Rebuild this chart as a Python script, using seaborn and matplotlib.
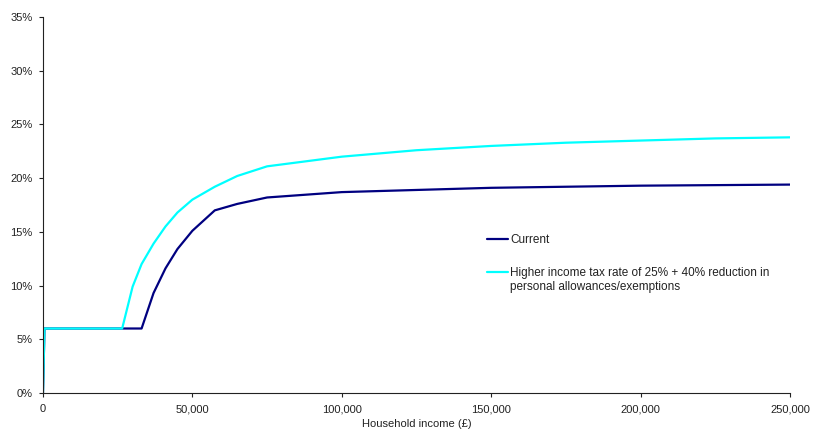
import matplotlib
matplotlib.use('Agg')
import matplotlib.pyplot as plt
import matplotlib.ticker as mticker
import pandas as pd
import seaborn as sns

# Household income (GBP) sample points
income = [0, 500, 26500, 30000, 33000, 37000, 41000, 45000, 50000, 57500, 65000,
          75000, 100000, 125000, 150000, 175000, 200000, 225000, 250000]

# Average tax rate (%) - current system
current = [0, 6.0, 6.0, 6.0, 6.0, 9.3, 11.6, 13.4, 15.1, 17.0, 17.6,
           18.2, 18.7, 18.9, 19.1, 19.2, 19.3, 19.35, 19.4]

# Average tax rate (%) - reform scenario
reform = [0, 6.0, 6.0, 9.9, 12.0, 13.9, 15.5, 16.8, 18.0, 19.2, 20.2,
          21.1, 22.0, 22.6, 23.0, 23.3, 23.5, 23.7, 23.8]

labels = ['Current',
          'Higher income tax rate of 25% + 40% reduction in',
          'personal allowances/exemptions']

sns.set_style('ticks')
plt.rcParams['font.family'] = ['Liberation Sans', 'DejaVu Sans']

df = pd.DataFrame({'income': income, 'current': current, 'reform': reform})

fig = plt.figure(figsize=(8.14, 4.43), dpi=100)
ax = fig.add_axes([0.0528, 0.113, 0.9177, 0.8485])

sns.lineplot(data=df, x='income', y='current', color='#000080', linewidth=1.6,
             label=labels[0], ax=ax, sort=False)
sns.lineplot(data=df, x='income', y='reform', color='#00FFFF', linewidth=1.6,
             label=labels[1], ax=ax, sort=False)

ax.set_xlim(0, 250000)
ax.set_ylim(0, 35)
ax.set_xticks(range(0, 250001, 50000))
ax.set_yticks(range(0, 36, 5))
ax.xaxis.set_major_formatter(mticker.FuncFormatter(lambda v, p: f'{int(v):,}'))
ax.yaxis.set_major_formatter(mticker.FuncFormatter(lambda v, p: f'{int(v)}%'))
ax.tick_params(labelsize=8, length=3, width=0.8, colors='#222222', labelcolor='#222222')
ax.tick_params(axis='x', pad=5)
ax.tick_params(axis='y', pad=4.3)
for s in ['left', 'bottom']:
    ax.spines[s].set_linewidth(0.8)
    ax.spines[s].set_color('#222222')
sns.despine(ax=ax)

ax.set_xlabel('Household income (£)', fontsize=8, color='#222222', labelpad=3.6)
ax.set_ylabel('')

leg = ax.legend(loc='upper left', bbox_to_anchor=(0.594, 0.423), frameon=False,
                fontsize=8.5, handlelength=1.8, handletextpad=0.17,
                labelspacing=1.76, borderpad=0, borderaxespad=0)
for t in leg.get_texts():
    t.set_color('#222222')

# second line of the long legend label, kept level with the handle of the first line
fig.canvas.draw()
bb = leg.get_texts()[1].get_window_extent().transformed(fig.transFigure.inverted())
fig.text(bb.x0, (bb.y0 + bb.y1) / 2 - 14 / 443, labels[2], fontsize=8.5,
         color='#222222', va='center', ha='left')

fig.savefig('out.png', dpi=100)
